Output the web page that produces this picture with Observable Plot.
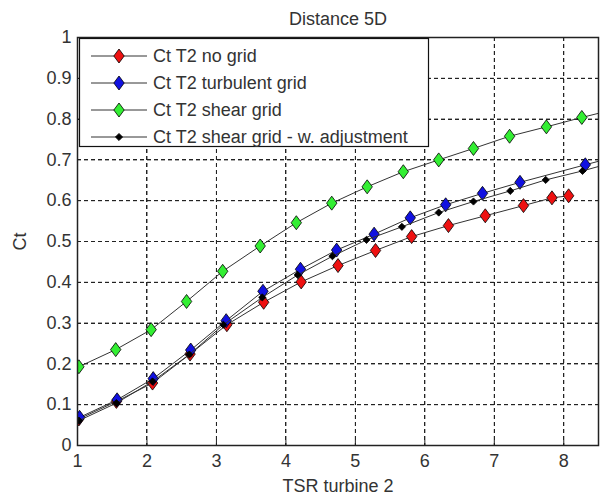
<!DOCTYPE html>
<html>
<head>
<meta charset="utf-8">
<script src="https://cdn.jsdelivr.net/npm/d3@7"></script>
<script src="https://cdn.jsdelivr.net/npm/@observablehq/plot@0.6"></script>
<style>
  body { margin: 0; background: #fff; }
  #chart { position: relative; width: 605px; height: 499px; }
</style>
</head>
<body>
<div id="chart"></div>
<script>
// ---- data ----
const chartTitle = "Distance 5D";
const xLabel = "TSR turbine 2";
const yLabel = "Ct";
const xTicks = [1, 2, 3, 4, 5, 6, 7, 8];
const yTicks = [0, 0.1, 0.2, 0.3, 0.4, 0.5, 0.6, 0.7, 0.8, 0.9, 1];

const seriesNames = ["Ct T2 no grid", "Ct T2 turbulent grid", "Ct T2 shear grid", "Ct T2 shear grid - w. adjustment"];
const seriesColors = ["#ee1111", "#1111e0", "#33ee33", "#000000"];

const tsrNoGrid = [1.02, 1.56, 2.08, 2.62, 3.15, 3.68, 4.22, 4.75, 5.29, 5.81, 6.34, 6.87, 7.42, 7.83, 8.07];
const ctNoGrid  = [0.065, 0.108, 0.153, 0.224, 0.296, 0.351, 0.401, 0.441, 0.478, 0.512, 0.539, 0.563, 0.588, 0.607, 0.612];

const tsrTurbulent = [1.03, 1.57, 2.09, 2.63, 3.14, 3.67, 4.21, 4.73, 5.27, 5.79, 6.30, 6.83, 7.37, 8.31, 8.84];
const ctTurbulent  = [0.069, 0.112, 0.164, 0.234, 0.306, 0.378, 0.432, 0.479, 0.518, 0.558, 0.590, 0.618, 0.645, 0.688, 0.712];

const tsrShear = [1.02, 1.55, 2.06, 2.57, 3.09, 3.63, 4.15, 4.66, 5.17, 5.69, 6.20, 6.70, 7.22, 7.75, 8.26, 8.78];
const ctShear  = [0.193, 0.235, 0.284, 0.353, 0.427, 0.489, 0.546, 0.594, 0.634, 0.671, 0.700, 0.728, 0.758, 0.781, 0.804, 0.826];

const tsrShearAdj = [1.02, 1.56, 2.08, 2.61, 3.10, 3.66, 4.17, 4.67, 5.16, 5.67, 6.20, 6.70, 7.23, 7.74, 8.27, 8.78];
const ctShearAdj  = [0.061, 0.104, 0.157, 0.223, 0.296, 0.363, 0.418, 0.464, 0.504, 0.536, 0.571, 0.598, 0.624, 0.651, 0.673, 0.697];

// ---- build tables ----
const xsList = [tsrNoGrid, tsrTurbulent, tsrShear, tsrShearAdj];
const ysList = [ctNoGrid, ctTurbulent, ctShear, ctShearAdj];
const series = seriesNames.map((name, i) => ({
  name,
  color: seriesColors[i],
  small: i === 3,
  data: xsList[i].map((x, j) => ({x, y: ysList[i][j]}))
}));

// diamond marker (MATLAB style: taller than wide)
function diamond(w, h) {
  return {
    draw(ctx) {
      ctx.moveTo(0, -h); ctx.lineTo(w, 0); ctx.lineTo(0, h); ctx.lineTo(-w, 0); ctx.closePath();
    }
  };
}
const bigDiamond = diamond(5.2, 7);
const smallDiamond = diamond(3.6, 3.6);

const fmt = d => String(+d.toFixed(1));
const FONT = "'Liberation Sans', Arial, sans-serif";
const GRID_STROKE = "#222";
const GRID_DASH = "4,3";

const marks = [
  Plot.ruleX(xTicks.slice(), {stroke: GRID_STROKE, strokeOpacity: 1, strokeDasharray: GRID_DASH, strokeWidth: 1}),
  Plot.ruleY(yTicks.slice(), {stroke: GRID_STROKE, strokeOpacity: 1, strokeDasharray: GRID_DASH, strokeWidth: 1}),
];
for (const s of series) {
  marks.push(Plot.line(s.data, {x: "x", y: "y", stroke: "#333", strokeWidth: 1, clip: true}));
  marks.push(Plot.dot(s.data, {x: "x", y: "y", symbol: s.small ? smallDiamond : bigDiamond,
    fill: s.color, stroke: "#000", strokeWidth: 0.8, clip: true}));
}
marks.push(
  Plot.axisX(xTicks.slice(), {anchor: "bottom", tickSize: -5, tickFormat: () => "", label: null, stroke: "#222"}),
  Plot.axisX(xTicks.slice(), {anchor: "bottom", tickSize: 0, tickPadding: 9, tickFormat: fmt,
    label: xLabel, labelAnchor: "center", labelArrow: "none", labelOffset: 46, fill: "#333"}),
  Plot.axisY(yTicks.slice(), {anchor: "left", tickSize: 0, tickPadding: 6, tickFormat: fmt,
    label: yLabel, labelAnchor: "center", labelArrow: "none", labelOffset: 64, fill: "#333"}),
  Plot.frame({stroke: "#222", strokeWidth: 1.5}),
  Plot.text([chartTitle], {frameAnchor: "top", dy: -25, fontSize: 18, fill: "#333"})
);

const plot = Plot.plot({
  width: 605,
  height: 499,
  marginLeft: 77,
  marginRight: 7,
  marginTop: 37,
  marginBottom: 54,
  style: {fontFamily: FONT, fontSize: "18px", background: "#fff", color: "#333"},
  x: {domain: [1, 8.5]},
  y: {domain: [0, 1]},
  marks
});

const svg = d3.select(plot);

// ---- grid backup: same ticks through Plot's own scales, placed beneath the data lines ----
const sx = plot.scale("x"), sy = plot.scale("y");
const [x0, x1] = sx.range, [y0, y1] = sy.range;
const firstLine = plot.querySelector('g[aria-label="line"]');
const gridG = document.createElementNS("http://www.w3.org/2000/svg", "g");
plot.insertBefore(gridG, firstLine);
const gg = d3.select(gridG).attr("stroke", GRID_STROKE).attr("stroke-dasharray", GRID_DASH)
  .attr("stroke-width", 1).attr("fill", "none");
xTicks.forEach(v => {
  const px = Math.round(sx.apply(v)) + 0.5;
  gg.append("line").attr("x1", px).attr("x2", px).attr("y1", Math.min(y0, y1)).attr("y2", Math.max(y0, y1));
});
yTicks.forEach(v => {
  const py = Math.round(sy.apply(v)) + 0.5;
  gg.append("line").attr("x1", Math.min(x0, x1)).attr("x2", Math.max(x0, x1)).attr("y1", py).attr("y2", py);
});

// ---- legend (inside the plot box, top-left) ----
const lg = svg.append("g").attr("font-family", FONT).attr("font-size", 18).attr("text-anchor", "start");
lg.append("rect").attr("x", 79.5).attr("y", 38.5).attr("width", 349).attr("height", 108)
  .attr("fill", "#fff").attr("stroke", "#111").attr("stroke-width", 1.2);
series.forEach((s, i) => {
  const cy = 56 + i * 27;
  lg.append("line").attr("x1", 91).attr("x2", 147).attr("y1", cy).attr("y2", cy)
    .attr("stroke", "#333").attr("stroke-width", 1);
  const d = d3.path();
  (s.small ? smallDiamond : bigDiamond).draw(d);
  lg.append("path").attr("d", d.toString()).attr("transform", `translate(119,${cy})`)
    .attr("fill", s.color).attr("stroke", "#000").attr("stroke-width", 0.8);
  lg.append("text").attr("x", 153).attr("y", cy).attr("dy", "0.35em")
    .attr("text-anchor", "start").attr("fill", "#333").text(s.name);
});

document.getElementById("chart").appendChild(plot);
</script>
</body>
</html>
